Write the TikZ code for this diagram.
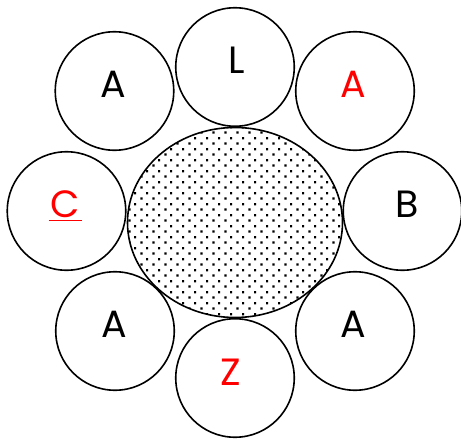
\documentclass[tikz,border=0pt]{standalone}
\usepackage{fontspec}
\setsansfont{Poppins}
\usetikzlibrary{positioning, shapes.geometric, patterns.meta}
\definecolor{LetterRed}{RGB}{255, 0, 0}

\tikzdeclarepattern{
  name=sanddots,
  type=uncolored,
  bottom left={(0pt,0pt)},
  top right={(11.6pt,10.8pt)},
  tile size={(11.6pt,10.8pt)},
  code={
    \pgfpathrectangle{\pgfqpoint{0.4pt}{0.4pt}}{\pgfqpoint{2.2pt}{2.2pt}}
    \pgfpathrectangle{\pgfqpoint{6.2pt}{5.8pt}}{\pgfqpoint{2.2pt}{2.2pt}}
    \pgfusepath{fill}
  }
}

\begin{document}
\begin{tikzpicture}[
    x=1pt, y=-1pt,
    petal/.style={circle, draw=black, line width=1.6pt, minimum size=118.5pt, inner sep=0pt},
    core/.style={ellipse, draw=black, line width=1.6pt, pattern={sanddots}, pattern color=black,
      minimum width=215pt, minimum height=190pt, inner sep=0pt},
    letter/.style={font=\sffamily\fontsize{38}{40}\selectfont, anchor=base, inner sep=0pt},
    marked/.style={letter, text=LetterRed}
  ]
    \useasboundingbox (0,0) rectangle (461,439);

    % Centre
    \node[core] (core) at (235,222.5) {};

    % Ring of circles
    \foreach \n/\x/\y in {top/235/67, topleft/114.5/91, topright/355/91, left/66.5/211,
                          right/402.5/211, botleft/115/331, botright/355/331, bot/235/378} {
      \node[petal] (\n) at (\x,\y) {};
    }

    % Letters
    \node[letter] (ltop) at ([xshift=1.5pt, yshift=-6pt]top.center) {L};
    \node[letter] (ltopleft) at ([xshift=-1pt, yshift=-6pt]topleft.center) {A};
    \node[marked] (ltopright) at ([xshift=-1.5pt, yshift=-6pt]topright.center) {A};
    \node[marked] (lleft) at ([xshift=-1pt, yshift=-6pt]left.center) {C};
    \node[letter] (lright) at ([xshift=4.5pt, yshift=-6pt]right.center) {B};
    \node[letter] (lbotleft) at ([xshift=-1pt, yshift=-6pt]botleft.center) {A};
    \node[letter] (lbotright) at ([xshift=-1.5pt, yshift=-6pt]botright.center) {A};
    \node[marked] (lbot) at ([xshift=-4.5pt, yshift=-7pt]bot.center) {Z};

    % Underline of C
    \draw[LetterRed, line width=0.9pt] ([xshift=-2pt, yshift=-3pt]lleft.base west) -- ([xshift=2pt, yshift=-3pt]lleft.base east);
  \end{tikzpicture}
\end{document}
